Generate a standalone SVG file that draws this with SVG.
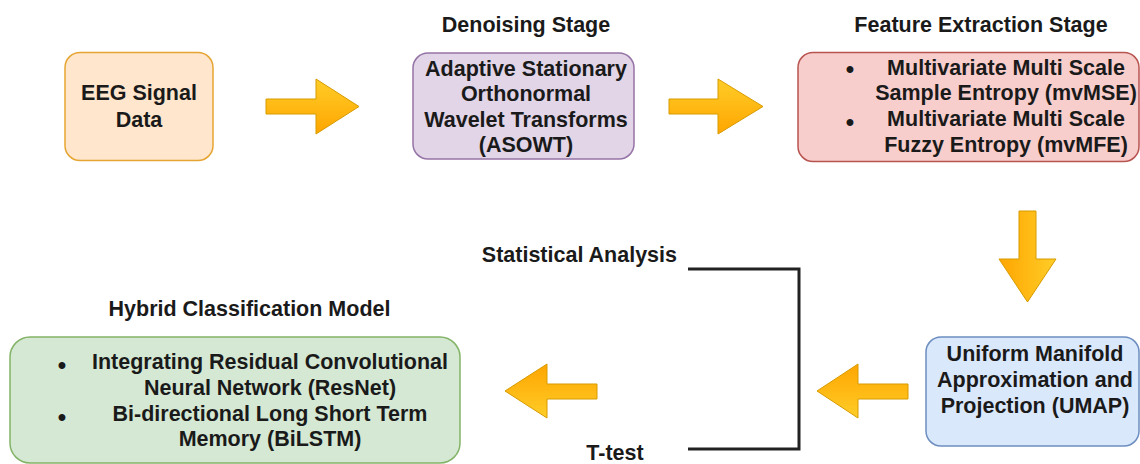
<svg xmlns="http://www.w3.org/2000/svg" width="1140" height="464" viewBox="0 0 1140 464">
<style>
text{font-family:"Liberation Sans",Arial,Helvetica,sans-serif;font-size:21.5px;font-weight:bold;fill:#1a1a1a;text-anchor:middle}
.bullet{font-size:24px}
.box{stroke-width:1.5}
.arrow{stroke:#d79b00;stroke-width:1;stroke-linejoin:miter}
</style>
<defs>
<linearGradient id="gRight" x1="0" y1="0" x2="0" y2="1"><stop offset="0" stop-color="#ffcd28"/><stop offset="1" stop-color="#ffa500"/></linearGradient>
<linearGradient id="gDown" x1="1" y1="0" x2="0" y2="0"><stop offset="0" stop-color="#ffcd28"/><stop offset="1" stop-color="#ffa500"/></linearGradient>
<linearGradient id="gLeft" x1="0" y1="1" x2="0" y2="0"><stop offset="0" stop-color="#ffcd28"/><stop offset="1" stop-color="#ffa500"/></linearGradient>
</defs>
<rect width="1140" height="464" fill="#ffffff"/>

<g id="label-denoising"><text x="526" y="32">Denoising Stage</text></g>
<g id="label-feature"><text x="981" y="32">Feature Extraction Stage</text></g>
<g id="label-hybrid"><text x="249.5" y="316">Hybrid Classification Model</text></g>

<g id="node-eeg">
<rect class="box" x="65" y="52.5" width="148" height="108" rx="15" fill="#ffe6cc" stroke="#e6a532"/>
<text x="139" y="100">EEG Signal</text>
<text x="139" y="127">Data</text>
</g>

<g id="node-asowt">
<rect class="box" x="413" y="53" width="221" height="106" rx="15" fill="#e1d5e7" stroke="#9673a6"/>
<text x="526" y="76">Adaptive Stationary</text>
<text x="526" y="101">Orthonormal</text>
<text x="526" y="127">Wavelet Transforms</text>
<text x="526" y="152">(ASOWT)</text>
</g>

<g id="node-features">
<rect class="box" x="798" y="52.5" width="341" height="109" rx="15" fill="#f8cecc" stroke="#b85450"/>
<text class="bullet" x="850" y="77">•</text>
<text x="1006" y="75">Multivariate Multi Scale</text>
<text x="1006" y="100">Sample Entropy (mvMSE)</text>
<text class="bullet" x="850" y="130">•</text>
<text x="1006" y="126">Multivariate Multi Scale</text>
<text x="1006" y="152">Fuzzy Entropy (mvMFE)</text>
</g>

<g id="node-umap">
<rect class="box" x="926" y="337" width="213" height="109" rx="15" fill="#dae8fc" stroke="#6c8ebf"/>
<text x="1035" y="361">Uniform Manifold</text>
<text x="1035" y="387">Approximation and</text>
<text x="1035" y="413">Projection (UMAP)</text>
</g>

<g id="node-hybrid">
<rect class="box" x="10" y="337" width="450" height="126" rx="20" fill="#d5e8d4" stroke="#82b366"/>
<text class="bullet" x="62" y="373">•</text>
<text x="270" y="369">Integrating Residual Convolutional</text>
<text x="270" y="395">Neural Network (ResNet)</text>
<text class="bullet" x="62" y="425">•</text>
<text x="270" y="421">Bi-directional Long Short Term</text>
<text x="270" y="446">Memory (BiLSTM)</text>
</g>

<g id="node-stats">
<text x="677" y="262" style="text-anchor:end">Statistical Analysis</text>
<text x="615" y="460">T-test</text>
</g>

<g id="connectors">
<polygon class="arrow" fill="url(#gRight)" points="266,99 316,99 316,79 359,106.5 316,134 316,114 266,114"/>
<polygon class="arrow" fill="url(#gRight)" points="669,99 718,99 718,79 763,106.5 718,134 718,114 669,114"/>
<polygon class="arrow" fill="url(#gDown)" points="1019,211 1036,211 1036,259 1056,259 1027.5,302 999,259 1019,259"/>
<polygon class="arrow" fill="url(#gLeft)" points="908,384 858,384 858,364 817,391 858,418 858,399 908,399"/>
<polygon class="arrow" fill="url(#gLeft)" points="597,384 547,384 547,364 505,391 547,418 547,399 597,399"/>
<path d="M688 269 H799 V449 H688" fill="none" stroke="#222222" stroke-width="3"/>
</g>
</svg>
